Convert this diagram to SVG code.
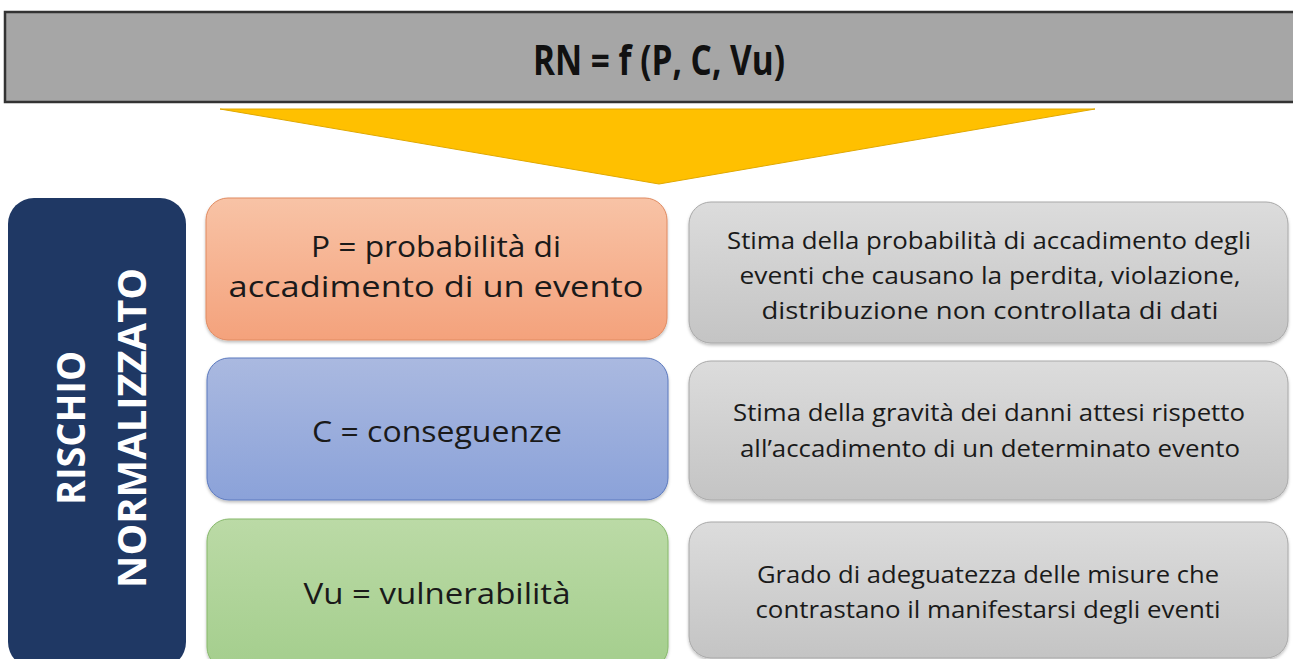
<svg xmlns="http://www.w3.org/2000/svg" width="1293" height="659" viewBox="0 0 1293 659">
<defs>
<linearGradient id="gOr" x1="0" y1="0" x2="0" y2="1"><stop offset="0" stop-color="#F8C3A6"/><stop offset="1" stop-color="#F4A27C"/></linearGradient>
<linearGradient id="gBl" x1="0" y1="0" x2="0" y2="1"><stop offset="0" stop-color="#AAB9E0"/><stop offset="1" stop-color="#8BA2D9"/></linearGradient>
<linearGradient id="gGr" x1="0" y1="0" x2="0" y2="1"><stop offset="0" stop-color="#BBDAA6"/><stop offset="1" stop-color="#A4CE8D"/></linearGradient>
<linearGradient id="gGy" x1="0" y1="0" x2="0" y2="1"><stop offset="0" stop-color="#DCDCDC"/><stop offset="1" stop-color="#C4C4C4"/></linearGradient>
<filter id="sh" x="-5%" y="-5%" width="110%" height="115%"><feDropShadow dx="0" dy="2" stdDeviation="1.5" flood-color="#000" flood-opacity="0.25"/></filter>
</defs>
<style>
.lt{font-family:"Open Sans","Liberation Sans",sans-serif;font-size:29px;fill:#1a1a1a;text-anchor:middle}
.rt{font-family:"Open Sans","Liberation Sans",sans-serif;font-size:23.5px;fill:#1a1a1a;text-anchor:middle}
.vt{font-family:"Open Sans","Liberation Sans",sans-serif;font-size:40px;font-weight:bold;fill:#fff;text-anchor:middle}
.box{filter:url(#sh)}
</style>
<rect width="1293" height="659" fill="#fff"/>
<g id="header">
<rect x="5" y="12" width="1290" height="90" fill="#A6A6A6" stroke="#333" stroke-width="2.5"/>
<text x="659" y="75" font-family="'Open Sans','Liberation Sans',sans-serif" font-size="42" font-weight="bold" fill="#111" text-anchor="middle" textLength="252" lengthAdjust="spacingAndGlyphs">RN = f (P, C, Vu)</text>
</g>
<g id="arrow">
<polygon points="220,109 1095,109 659,184" fill="#FFC000" stroke="#E0A800" stroke-width="1"/>
</g>
<g id="rischio">
<rect x="8" y="198" width="178" height="470" rx="26" fill="#1F3864"/>
<text class="vt" transform="translate(85,428) rotate(-90)" textLength="154" lengthAdjust="spacingAndGlyphs">RISCHIO</text>
<text class="vt" transform="translate(146,428) rotate(-90)" textLength="320" lengthAdjust="spacingAndGlyphs">NORMALIZZATO</text>
</g>
<g id="p">
<rect class="box" x="206" y="198" width="461" height="142" rx="22" fill="url(#gOr)" stroke="#E08A60" stroke-width="1"/>
<text class="lt" x="436" y="257" textLength="250" lengthAdjust="spacingAndGlyphs">P = probabilità di</text>
<text class="lt" x="436" y="297" textLength="415" lengthAdjust="spacingAndGlyphs">accadimento di un evento</text>
</g>
<g id="c">
<rect class="box" x="207" y="358" width="461" height="142" rx="22" fill="url(#gBl)" stroke="#5A78BE" stroke-width="1"/>
<text class="lt" x="437" y="442" textLength="250" lengthAdjust="spacingAndGlyphs">C = conseguenze</text>
</g>
<g id="vu">
<rect class="box" x="207" y="519" width="461" height="150" rx="22" fill="url(#gGr)" stroke="#86B86A" stroke-width="1"/>
<text class="lt" x="437" y="604" textLength="267" lengthAdjust="spacingAndGlyphs">Vu = vulnerabilità</text>
</g>
<g id="p-desc">
<rect class="box" x="689" y="202" width="599" height="141" rx="22" fill="url(#gGy)" stroke="#A8A8A8" stroke-width="1"/>
<text class="rt" x="989" y="249" textLength="524" lengthAdjust="spacingAndGlyphs">Stima della probabilità di accadimento degli</text>
<text class="rt" x="990" y="284" textLength="501" lengthAdjust="spacingAndGlyphs">eventi che causano la perdita, violazione,</text>
<text class="rt" x="990" y="319" textLength="457" lengthAdjust="spacingAndGlyphs">distribuzione non controllata di dati</text>
</g>
<g id="c-desc">
<rect class="box" x="689" y="361" width="599" height="139" rx="22" fill="url(#gGy)" stroke="#A8A8A8" stroke-width="1"/>
<text class="rt" x="989" y="421" textLength="512" lengthAdjust="spacingAndGlyphs">Stima della gravità dei danni attesi rispetto</text>
<text class="rt" x="990" y="457" textLength="500" lengthAdjust="spacingAndGlyphs">all’accadimento di un determinato evento</text>
</g>
<g id="vu-desc">
<rect class="box" x="689" y="522" width="599" height="136" rx="22" fill="url(#gGy)" stroke="#A8A8A8" stroke-width="1"/>
<text class="rt" x="988" y="583" textLength="462" lengthAdjust="spacingAndGlyphs">Grado di adeguatezza delle misure che</text>
<text class="rt" x="988" y="618" textLength="465" lengthAdjust="spacingAndGlyphs">contrastano il manifestarsi degli eventi</text>
</g>
<g id="connectors"/>
</svg>
